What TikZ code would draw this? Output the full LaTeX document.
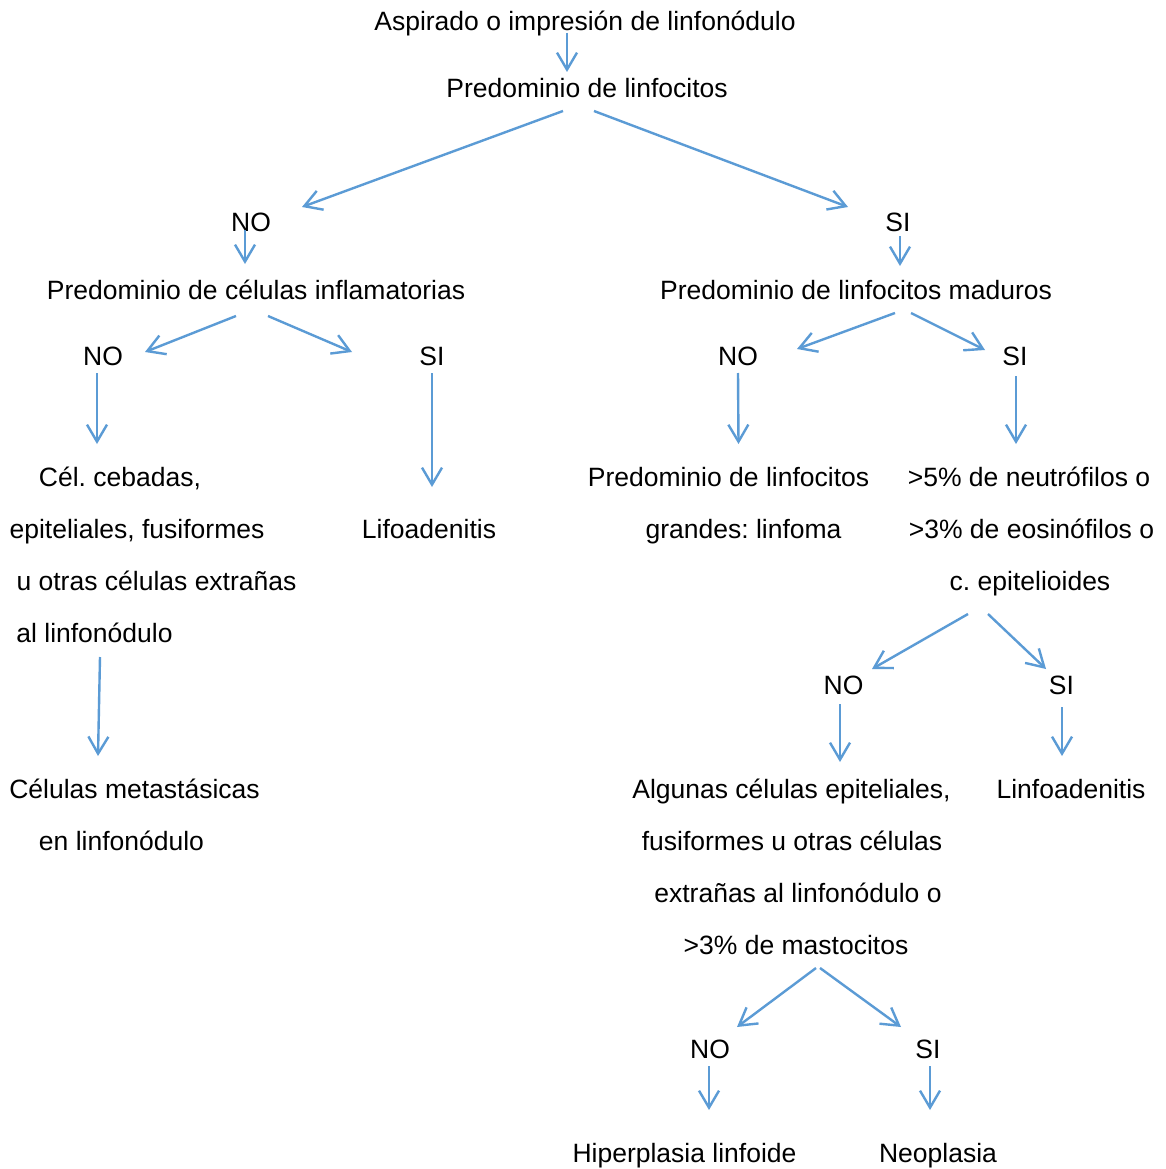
\documentclass[tikz,border=0pt]{standalone}
\usepackage{fontspec}
\setmainfont{Liberation Sans}
\usetikzlibrary{arrows.meta}
\definecolor{arrblue}{RGB}{91,155,213}
\frenchspacing
\begin{document}
\begin{tikzpicture}[x=1pt,y=-1pt,
  txt/.style={inner sep=0pt,font=\fontsize{26.5}{30}\selectfont\frenchspacing,text height=22pt,text depth=2.5pt},
  arr/.style={draw=arrblue,line width=2.4pt,-{Straight Barb[length=17pt,width=20pt,line width=2.4pt]}}]
\path[use as bounding box,fill=white] (0,0) rectangle (1166,1169);
% nodes
\node[txt] (t0) at (585,21) {Aspirado o impresión de linfonódulo};
\node[txt] (t1) at (587,88) {Predominio de linfocitos};
\node[txt] (no1) at (251,222) {NO};
\node[txt] (si1) at (898,222) {SI};
\node[txt] (l1) at (256,290) {Predominio de células inflamatorias};
\node[txt] (r1) at (856,290) {Predominio de linfocitos maduros};
\node[txt] (no2) at (103,356) {NO};
\node[txt] (si2) at (432,356) {SI};
\node[txt] (no3) at (738,356) {NO};
\node[txt] (si3) at (1015,356) {SI};
\node[txt] (la1) at (120,477) {Cél. cebadas,};
\node[txt] (la2) at (137,529) {epiteliales, fusiformes};
\node[txt] (la3) at (156.5,581) {u otras células extrañas};
\node[txt] (la4) at (94.5,633) {al linfonódulo};
\node[txt] (lifo) at (429,529) {Lifoadenitis};
\node[txt] (rb1) at (728.5,477) {Predominio de linfocitos};
\node[txt] (rb2) at (743.5,529) {grandes: linfoma};
\node[txt] (rc1) at (1029,477) {>5\% de neutrófilos o};
\node[txt] (rc2) at (1031.5,529) {>3\% de eosinófilos o};
\node[txt] (rc3) at (1030,581) {c. epitelioides};
\node[txt] (no4) at (843.5,685) {NO};
\node[txt] (si4) at (1061.5,685) {SI};
\node[txt] (lm1) at (134.5,789) {Células metastásicas};
\node[txt] (lm2) at (121.5,841) {en linfonódulo};
\node[txt] (rd1) at (791.5,789) {Algunas células epiteliales,};
\node[txt] (rd2) at (792,841) {fusiformes u otras células};
\node[txt] (rd3) at (798,893) {extrañas al linfonódulo o};
\node[txt] (rd4) at (796,945) {>3\% de mastocitos};
\node[txt] (linfo) at (1071,789) {Linfoadenitis};
\node[txt] (no5) at (710,1049) {NO};
\node[txt] (si5) at (928,1049) {SI};
\node[txt] (hip) at (684.5,1153) {Hiperplasia linfoide};
\node[txt] (neo) at (938,1153) {Neoplasia};
% connectors
\draw[arr] ([shift={(-18,12)}]t0.center) -- ([shift={(-20,-16)}]t1.center);
\draw[arr] ([shift={(-24,23)}]t1.center) -- ([shift={(51,-15)}]no1.center);
\draw[arr] ([shift={(7,23)}]t1.center) -- ([shift={(-50,-15)}]si1.center);
\draw[arr] ([shift={(-6,8)}]no1.center) -- ([shift={(-11,-26)}]l1.center);
\draw[arr] ([shift={(2,14)}]si1.center) -- ([shift={(44,-24)}]r1.center);
\draw[arr] ([shift={(-20,26)}]l1.center) -- ([shift={(42,-4)}]no2.center);
\draw[arr] ([shift={(12,26)}]l1.center) -- ([shift={(-80,-4)}]si2.center);
\draw[arr] ([shift={(39,23)}]r1.center) -- ([shift={(59,-7)}]no3.center);
\draw[arr] ([shift={(55,23)}]r1.center) -- ([shift={(-30,-6)}]si3.center);
\draw[arr] ([shift={(-6,17)}]no2.center) -- ([shift={(-23,-33)}]la1.center);
\draw[arr] ([shift={(0,17)}]si2.center) -- ([shift={(3,-42)}]lifo.center);
\draw[arr] ([shift={(0,17)}]no3.center) -- ([shift={(10,-33)}]rb1.center);
\draw[arr] ([shift={(1,20)}]si3.center) -- ([shift={(-13,-33)}]rc1.center);
\draw[arr] ([shift={(5.5,24)}]la4.center) -- ([shift={(-36.5,-33)}]lm1.center);
\draw[arr] ([shift={(-62,33)}]rc3.center) -- ([shift={(28.5,-16)}]no4.center);
\draw[arr] ([shift={(-42,33)}]rc3.center) -- ([shift={(-15.5,-16)}]si4.center);
\draw[arr] ([shift={(-3.5,19)}]no4.center) -- ([shift={(48.5,-27)}]rd1.center);
\draw[arr] ([shift={(0.5,22)}]si4.center) -- ([shift={(-9,-33)}]linfo.center);
\draw[arr] ([shift={(20,23)}]rd4.center) -- ([shift={(27,-22)}]no5.center);
\draw[arr] ([shift={(24,23)}]rd4.center) -- ([shift={(-27,-22)}]si5.center);
\draw[arr] ([shift={(-1,17)}]no5.center) -- ([shift={(24.5,-43)}]hip.center);
\draw[arr] ([shift={(2,17)}]si5.center) -- ([shift={(-8,-43)}]neo.center);
\end{tikzpicture}
\end{document}
